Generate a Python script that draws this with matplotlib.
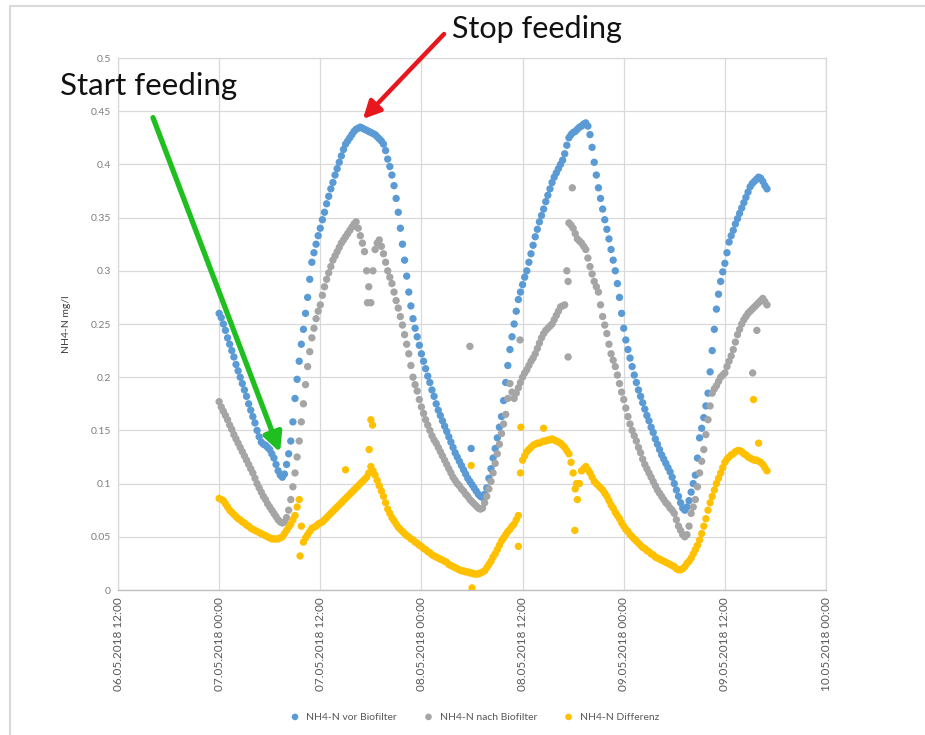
import numpy as np
import matplotlib
matplotlib.use("Agg")
import matplotlib.pyplot as plt
import matplotlib.dates as mdates
from matplotlib.lines import Line2D
from datetime import datetime, timedelta

# ---------------- data ----------------
start_time = datetime(2018, 5, 7, 0, 0)
hours = np.arange(0, 65.01, 0.25)   # quarter-hourly readings from 07.05.2018 00:00

vor_biofilter = [
    0.260, 0.256, 0.250, 0.244, 0.237, 0.231, 0.225, 0.219,
    0.212, 0.206, 0.200, 0.194, 0.188, 0.182, 0.175, 0.169,
    0.163, 0.157, 0.150, 0.144, 0.139, 0.137, 0.136, 0.134,
    0.132, 0.128, 0.124, 0.118, 0.112, 0.108, 0.106, 0.109,
    0.118, 0.128, 0.140, 0.158, 0.180, 0.198, 0.215, 0.231,
    0.245, 0.260, 0.275, 0.292, 0.308, 0.317, 0.325, 0.333,
    0.340, 0.348, 0.355, 0.363, 0.370, 0.377, 0.383, 0.390,
    0.396, 0.402, 0.408, 0.414, 0.419, 0.422, 0.425, 0.428,
    0.431, 0.433, 0.434, 0.435, 0.434, 0.433, 0.432, 0.431,
    0.430, 0.429, 0.428, 0.426, 0.424, 0.422, 0.419, 0.413,
    0.405, 0.398, 0.390, 0.380, 0.368, 0.355, 0.340, 0.325,
    0.310, 0.295, 0.280, 0.267, 0.255, 0.246, 0.238, 0.230,
    0.222, 0.215, 0.208, 0.201, 0.195, 0.188, 0.182, 0.175,
    0.169, 0.164, 0.159, 0.154, 0.149, 0.144, 0.139, 0.134,
    0.129, 0.125, 0.121, 0.117, 0.113, 0.109, 0.105, 0.102,
    0.099, 0.096, 0.093, 0.090, 0.088, 0.087, 0.090, 0.096,
    0.105, 0.114, 0.124, 0.133, 0.143, 0.153, 0.163, 0.178,
    0.195, 0.211, 0.226, 0.238, 0.250, 0.262, 0.273, 0.280,
    0.287, 0.294, 0.300, 0.308, 0.316, 0.324, 0.332, 0.339,
    0.346, 0.352, 0.358, 0.365, 0.371, 0.377, 0.383, 0.388,
    0.392, 0.396, 0.400, 0.404, 0.410, 0.418, 0.425, 0.428,
    0.430, 0.431, 0.433, 0.435, 0.436, 0.438, 0.439, 0.436,
    0.428, 0.416, 0.402, 0.390, 0.378, 0.368, 0.358, 0.348,
    0.339, 0.330, 0.320, 0.310, 0.300, 0.288, 0.275, 0.260,
    0.246, 0.235, 0.226, 0.218, 0.210, 0.202, 0.195, 0.188,
    0.182, 0.176, 0.170, 0.164, 0.159, 0.153, 0.148, 0.142,
    0.137, 0.132, 0.127, 0.123, 0.119, 0.115, 0.111, 0.106,
    0.100, 0.094, 0.088, 0.082, 0.077, 0.075, 0.078, 0.084,
    0.092, 0.100, 0.108, 0.124, 0.143, 0.152, 0.162, 0.173,
    0.185, 0.205, 0.225, 0.245, 0.264, 0.278, 0.290, 0.299,
    0.307, 0.317, 0.327, 0.333, 0.338, 0.344, 0.349, 0.354,
    0.359, 0.364, 0.369, 0.374, 0.379, 0.382, 0.384, 0.386,
    0.388, 0.387, 0.384, 0.380, 0.377,
]

nach_biofilter = [
    0.177, 0.172, 0.168, 0.164, 0.160, 0.155, 0.151, 0.146,
    0.142, 0.138, 0.134, 0.130, 0.126, 0.122, 0.118, 0.114,
    0.110, 0.105, 0.100, 0.096, 0.092, 0.088, 0.085, 0.081,
    0.078, 0.075, 0.072, 0.069, 0.066, 0.064, 0.063, 0.064,
    0.068, 0.075, 0.085, 0.097, 0.110, 0.125, 0.140, 0.158,
    0.175, 0.193, 0.210, 0.224, 0.237, 0.246, 0.255, 0.262,
    0.268, 0.277, 0.285, 0.292, 0.298, 0.304, 0.310, 0.314,
    0.318, 0.322, 0.326, 0.329, 0.332, 0.335, 0.338, 0.341,
    0.344, 0.346, 0.340, 0.333, 0.326, 0.318, 0.300, 0.285,
    0.270, 0.300, 0.320, 0.326, 0.329, 0.323, 0.316, 0.308,
    0.300, 0.294, 0.288, 0.280, 0.272, 0.265, 0.257, 0.249,
    0.240, 0.231, 0.222, 0.211, 0.200, 0.193, 0.187, 0.179,
    0.172, 0.166, 0.160, 0.155, 0.150, 0.145, 0.141, 0.138,
    0.134, 0.130, 0.126, 0.122, 0.118, 0.114, 0.110, 0.106,
    0.103, 0.100, 0.098, 0.095, 0.093, 0.090, 0.088, 0.085,
    0.083, 0.081, 0.079, 0.077, 0.076, 0.077, 0.082, 0.088,
    0.095, 0.102, 0.110, 0.119, 0.128, 0.137, 0.147, 0.156,
    0.165, 0.180, 0.194, 0.186, 0.180, 0.185, 0.190, 0.195,
    0.200, 0.204, 0.207, 0.211, 0.215, 0.218, 0.222, 0.227,
    0.232, 0.237, 0.241, 0.244, 0.246, 0.248, 0.250, 0.254,
    0.258, 0.262, 0.266, 0.267, 0.268, 0.300, 0.345, 0.343,
    0.340, 0.335, 0.330, 0.328, 0.326, 0.323, 0.320, 0.312,
    0.304, 0.297, 0.290, 0.285, 0.280, 0.268, 0.257, 0.249,
    0.241, 0.231, 0.222, 0.216, 0.210, 0.202, 0.194, 0.186,
    0.179, 0.171, 0.163, 0.156, 0.150, 0.145, 0.140, 0.134,
    0.129, 0.123, 0.118, 0.114, 0.110, 0.106, 0.102, 0.098,
    0.094, 0.091, 0.088, 0.085, 0.082, 0.080, 0.077, 0.075,
    0.072, 0.066, 0.060, 0.056, 0.052, 0.050, 0.052, 0.060,
    0.072, 0.078, 0.085, 0.097, 0.110, 0.121, 0.132, 0.146,
    0.160, 0.173, 0.185, 0.189, 0.192, 0.196, 0.200, 0.202,
    0.204, 0.210, 0.215, 0.220, 0.226, 0.233, 0.240, 0.245,
    0.250, 0.254, 0.257, 0.260, 0.262, 0.264, 0.266, 0.268,
    0.270, 0.272, 0.274, 0.271, 0.268,
]

differenz = [
    0.086, 0.085, 0.084, 0.081, 0.078, 0.075, 0.073, 0.071,
    0.069, 0.067, 0.066, 0.064, 0.063, 0.061, 0.060, 0.058,
    0.057, 0.056, 0.055, 0.054, 0.053, 0.052, 0.051, 0.050,
    0.049, 0.048, 0.048, 0.048, 0.048, 0.049, 0.050, 0.053,
    0.056, 0.059, 0.062, 0.066, 0.070, 0.078, 0.085, 0.060,
    0.045, 0.049, 0.052, 0.055, 0.058, 0.059, 0.060, 0.062,
    0.063, 0.064, 0.066, 0.068, 0.070, 0.072, 0.074, 0.076,
    0.078, 0.080, 0.082, 0.084, 0.086, 0.088, 0.090, 0.092,
    0.094, 0.096, 0.098, 0.100, 0.102, 0.104, 0.106, 0.110,
    0.116, 0.112, 0.108, 0.103, 0.098, 0.093, 0.088, 0.082,
    0.076, 0.072, 0.068, 0.065, 0.062, 0.059, 0.057, 0.055,
    0.053, 0.051, 0.050, 0.048, 0.047, 0.045, 0.044, 0.042,
    0.041, 0.039, 0.038, 0.036, 0.035, 0.033, 0.032, 0.031,
    0.030, 0.029, 0.028, 0.027, 0.026, 0.024, 0.023, 0.022,
    0.021, 0.020, 0.019, 0.018, 0.018, 0.017, 0.017, 0.016,
    0.016, 0.015, 0.015, 0.015, 0.016, 0.017, 0.018, 0.021,
    0.024, 0.027, 0.031, 0.034, 0.038, 0.042, 0.046, 0.049,
    0.052, 0.055, 0.057, 0.060, 0.062, 0.066, 0.070, 0.110,
    0.122, 0.126, 0.130, 0.132, 0.134, 0.136, 0.137, 0.138,
    0.138, 0.139, 0.140, 0.140, 0.141, 0.141, 0.142, 0.141,
    0.140, 0.139, 0.138, 0.136, 0.134, 0.131, 0.128, 0.120,
    0.110, 0.095, 0.085, 0.100, 0.112, 0.114, 0.116, 0.113,
    0.110, 0.106, 0.102, 0.100, 0.098, 0.096, 0.094, 0.091,
    0.088, 0.084, 0.080, 0.077, 0.073, 0.070, 0.067, 0.063,
    0.060, 0.057, 0.055, 0.052, 0.050, 0.048, 0.046, 0.044,
    0.042, 0.040, 0.039, 0.037, 0.036, 0.034, 0.033, 0.031,
    0.030, 0.029, 0.028, 0.027, 0.026, 0.025, 0.024, 0.023,
    0.022, 0.020, 0.019, 0.019, 0.020, 0.022, 0.025, 0.027,
    0.030, 0.034, 0.038, 0.042, 0.047, 0.053, 0.060, 0.067,
    0.075, 0.082, 0.088, 0.094, 0.100, 0.105, 0.110, 0.115,
    0.120, 0.123, 0.125, 0.127, 0.128, 0.130, 0.131, 0.131,
    0.130, 0.128, 0.127, 0.125, 0.124, 0.123, 0.122, 0.122,
    0.121, 0.120, 0.118, 0.115, 0.112,
]

# scattered single readings (hour offset, value)
vor_extra_hours = [29.9]
vor_extra_vals = [0.133]
nach_extra_hours = [29.75, 41.9, 41.4, 41.4, 35.7, 17.6, 63.3, 63.8]
nach_extra_vals = [0.229, 0.378, 0.290, 0.219, 0.235, 0.270, 0.204, 0.244]
diff_extra_hours = [18.0, 18.2, 17.8, 15.0, 30.0, 35.8, 38.5, 35.5, 42.2, 63.4, 64.0, 29.9, 9.6, 42.4]
diff_extra_vals = [0.160, 0.155, 0.132, 0.113, 0.002, 0.153, 0.152, 0.041, 0.056, 0.179, 0.138, 0.117, 0.032, 0.100]

series_names = ["NH4-N vor Biofilter", "NH4-N nach Biofilter", "NH4-N Differenz"]
series_colors = ["#5B9BD5", "#A5A5A5", "#FFC000"]

# ---------------- plotting ----------------
W, H = 925, 735
fig = plt.figure(figsize=(W / 100, H / 100), dpi=100)
FONT = ["Lato", "DejaVu Sans"]

def px(x, y):
    return (x / W, 1 - y / H)

left, right, top, bottom = 118, 826, 58, 590
ax = fig.add_axes([left / W, 1 - bottom / H, (right - left) / W, (bottom - top) / H])

def to_num(hs):
    return mdates.date2num([start_time + timedelta(hours=float(h)) for h in hs])

data = [
    (vor_biofilter, vor_extra_hours, vor_extra_vals),
    (nach_biofilter, nach_extra_hours, nach_extra_vals),
    (differenz, diff_extra_hours, diff_extra_vals),
]
for (vals, eh, ev), name, col in zip(data, series_names, series_colors):
    xs = np.concatenate([to_num(hours), to_num(eh)])
    ys = np.concatenate([np.array(vals), np.array(ev)])
    ax.scatter(xs, ys, s=28, color=col, edgecolors="none", label=name, zorder=3)

x0 = datetime(2018, 5, 6, 12, 0)
x1 = datetime(2018, 5, 10, 0, 0)
ax.set_xlim(mdates.date2num(x0), mdates.date2num(x1))
ticks = [x0 + timedelta(hours=12 * i) for i in range(8)]
ax.set_xticks(mdates.date2num(ticks))
ax.set_xticklabels([t.strftime("%d.%m.%Y %H:%M") for t in ticks], rotation=90,
                   fontsize=8.5, color="#595959", family=FONT)

ax.set_ylim(0, 0.5)
yt = np.round(np.arange(0, 0.5001, 0.05), 2)
ax.set_yticks(yt)
ax.set_yticklabels(["%g" % v for v in yt], fontsize=7.5, color="#7F7F7F", family=FONT)
ax.tick_params(length=0, pad=5)

ax.grid(True, color="#D9D9D9", lw=0.9)
ax.set_axisbelow(True)
for s in ["top", "right", "left"]:
    ax.spines[s].set_color("#D9D9D9")
    ax.spines[s].set_linewidth(0.9)
ax.spines["bottom"].set_color("#BFBFBF")
ax.spines["bottom"].set_linewidth(1.0)

ax.set_ylabel("NH4-N mg/l", fontsize=7.5, color="#404040", family=FONT, labelpad=14)

leg = fig.legend(loc="center", bbox_to_anchor=px(472, 717), ncol=3, frameon=False,
                 prop={"family": FONT, "size": 7.5}, handletextpad=0.1,
                 columnspacing=2.0, markerscale=0.9)
for t in leg.get_texts():
    t.set_color("#595959")

# annotations (figure-pixel layout)
fig.text(*px(60, 86), "Start feeding", fontsize=22.5, family=FONT, va="center", ha="left", color="#111111")
fig.text(*px(452, 29), "Stop feeding", fontsize=22, family=FONT, va="center", ha="left", color="#111111")
fig.add_artist(matplotlib.patches.FancyArrowPatch(
    px(152, 115), px(281, 455), transform=fig.transFigure,
    arrowstyle="-|>", mutation_scale=28, color="#1FBF1F", lw=3.8, zorder=10))
fig.add_artist(matplotlib.patches.FancyArrowPatch(
    px(446, 32), px(361, 121), transform=fig.transFigure,
    arrowstyle="-|>", mutation_scale=26, color="#E8161D", lw=3.2, zorder=10))

# outer chart frame (top and left visible)
fig.add_artist(Line2D([10 / W, 10 / W, 1.0], [0.0, 1 - 6 / H, 1 - 6 / H],
                      transform=fig.transFigure, color="#D9D9D9", lw=1.5))

fig.savefig("out.png", dpi=100)
